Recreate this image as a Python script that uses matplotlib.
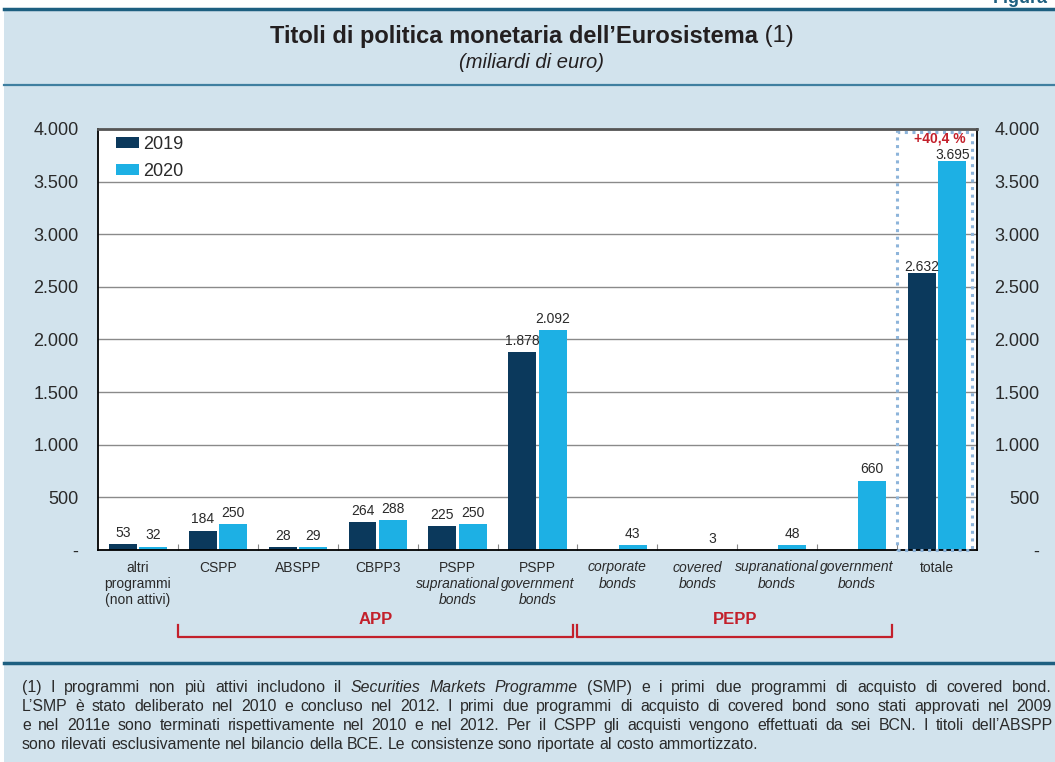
import matplotlib
matplotlib.use('Agg')
import numpy as np
import matplotlib.pyplot as plt
from matplotlib.patches import Rectangle
from matplotlib.lines import Line2D

plt.rcParams['font.family'] = ['Liberation Sans', 'DejaVu Sans']

# data
categories = [
    [('altri', 'normal'), ('programmi', 'normal'), ('(non attivi)', 'normal')],
    [('CSPP', 'normal')],
    [('ABSPP', 'normal')],
    [('CBPP3', 'normal')],
    [('PSPP', 'normal'), ('supranational', 'italic'), ('bonds', 'italic')],
    [('PSPP', 'normal'), ('government', 'italic'), ('bonds', 'italic')],
    [('corporate', 'italic'), ('bonds', 'italic')],
    [('covered', 'italic'), ('bonds', 'italic')],
    [('supranational', 'italic'), ('bonds', 'italic')],
    [('government', 'italic'), ('bonds', 'italic')],
    [('totale', 'normal')],
]
v2019 = [53, 184, 28, 264, 225, 1878, None, None, None, None, 2632]
v2020 = [32, 250, 29, 288, 250, 2092, 43, 3, 48, 660, 3695]
yticks = [0, 500, 1000, 1500, 2000, 2500, 3000, 3500, 4000]
groups = [('APP', 1.0, 5.94), ('PEPP', 6.0, 9.94)]
growth_label = '+40,4 %'

# colors
BG = '#d2e3ed'
TEAL = '#1d5f80'
DARK = '#0b395c'
LIGHT = '#1db0e4'
RED = '#c3202b'
TXT = '#2a2a2a'

W, H = 1055, 762


def fmt(v):
    if v == 0:
        return '-'
    return f"{v:,.0f}".replace(',', '.')


fig = plt.figure(figsize=(W / 100, H / 100), dpi=100)
fig.patch.set_facecolor('white')
fig.add_artist(Rectangle((4 / W, 0), 1, 1 - 9 / H, transform=fig.transFigure,
                         facecolor=BG, edgecolor='none', zorder=-10))
fig.add_artist(Line2D([4 / W, 1], [1 - 8.5 / H] * 2, color=TEAL, lw=2.5))
fig.add_artist(Line2D([4 / W, 1], [1 - 85 / H] * 2, color='#3f7fa0', lw=1.6))
fig.add_artist(Line2D([4 / W, 1], [1 - 663 / H] * 2, color=TEAL, lw=2.5))

fig.text(1048 / W, 1 - 3 / H, 'Figura', ha='right', va='baseline', fontsize=13,
         fontweight='bold', color=TEAL)

# title: bold part + normal "(1)", centred together
fig.canvas.draw()
r = fig.canvas.get_renderer()
t1 = fig.text(0, 1 - 36 / H, "Titoli di politica monetaria dell\u2019Eurosistema",
              ha='left', va='center', fontsize=17, fontweight='bold', color='#231f20')
t2 = fig.text(0, 1 - 36 / H, ' (1)', ha='left', va='center', fontsize=17, color='#231f20')
w1 = t1.get_window_extent(r).width
w2 = t2.get_window_extent(r).width
x0 = (W - w1 - w2) / 2 + 4
t1.set_x(x0 / W)
t2.set_x((x0 + w1) / W)
fig.text(0.5 + 4 / W, 1 - 62 / H, '(miliardi di euro)', ha='center', va='center',
         fontsize=14.5, style='italic', color='#231f20')

# axes
ax = fig.add_axes([98 / W, 1 - 550 / H, 879 / W, 421 / H])
ax.set_facecolor('white')
ax.set_xlim(0, 11)
ax.set_ylim(0, 4000)
ax.set_axisbelow(True)
ax.set_yticks(yticks)
ax.set_yticklabels([fmt(v) for v in yticks], fontsize=13, color=TXT)
ax.yaxis.grid(True, color='#8a8a8a', lw=1)
ax.tick_params(axis='y', length=0, pad=14)
ax.set_xticks(np.arange(1, 11))
ax.set_xticklabels([])
ax.tick_params(axis='x', direction='in', length=4, color='#888888')

for s in ['left', 'bottom', 'right']:
    ax.spines[s].set_color('black')
    ax.spines[s].set_linewidth(1.3)
ax.spines['top'].set_color('#555555')
ax.spines['top'].set_linewidth(2)

x = np.arange(len(v2020)) + 0.5
off, bw = 0.19, 0.35
x19 = [xi - off for xi, v in zip(x, v2019) if v is not None]
h19 = [v for v in v2019 if v is not None]
ax.bar(x19, h19, width=bw, color=DARK, label='2019', zorder=2)
ax.bar(x + off, v2020, width=bw, color=LIGHT, label='2020', zorder=2)

last = len(v2020) - 1
for xi, v in zip(x19, h19):
    dy = -0.5 if xi > last else 3
    ax.annotate(fmt(v), (xi, v), xytext=(0, dy), textcoords='offset points',
                ha='center', va='bottom', fontsize=10, color=TXT)
for xi, v in zip(x + off, v2020):
    dy = -0.5 if xi > last else 3
    ax.annotate(fmt(v), (xi, v), xytext=(0, dy), textcoords='offset points',
                ha='center', va='bottom', fontsize=10, color=TXT)

ax2 = ax.twinx()
ax2.set_ylim(0, 4000)
ax2.set_yticks(yticks)
ax2.set_yticklabels([fmt(v) for v in yticks], fontsize=13, color=TXT, ha='right')
ax2.tick_params(axis='y', length=0, pad=45)
for s in ax2.spines.values():
    s.set_visible(False)

# category labels
for xi, lines in zip(x, categories):
    for k, (txt, st) in enumerate(lines):
        ax.annotate(txt, (xi, 0), xycoords=('data', 'axes fraction'),
                    xytext=(0, -12.6 - 11.6 * k), textcoords='offset points',
                    ha='center', va='center', fontsize=10, style=st, color=TXT,
                    annotation_clip=False)

# dotted box around totale
ax.add_patch(Rectangle((10.0, 0), 0.94, 3970, fill=False, ls=(0, (1, 1.5)),
                       ec='#8db4da', lw=2.2, clip_on=False, zorder=3))
ax.text(x[-1] + 0.04, 3905, growth_label, ha='center', va='center', fontsize=10,
        fontweight='bold', color=RED, zorder=4)

# group brackets
for name, a, b in groups:
    ax.plot([a, a, b, b], [-0.178, -0.2067, -0.2067, -0.178], color=RED, lw=1.6,
            transform=ax.get_xaxis_transform(), clip_on=False)
    ax.text((a + b) / 2, -0.164, name, ha='center', va='center', fontsize=12,
            fontweight='bold', color=RED, transform=ax.get_xaxis_transform())

leg = ax.legend(loc='upper left', frameon=False, fontsize=13, handlelength=1.3,
                handleheight=0.55, handletextpad=0.2, labelspacing=0.55,
                borderaxespad=0.0, bbox_to_anchor=(0.012, 1.0))
for t in leg.get_texts():
    t.set_color(TXT)

# footnote, justified
foot = [
    [('(1) I programmi non più attivi includono il', 'normal'),
     ('Securities Markets Programme', 'italic'),
     ('(SMP) e i primi due programmi di acquisto di covered bond.', 'normal')],
    [("L\u2019SMP è stato deliberato nel 2010 e concluso nel 2012. I primi due programmi di acquisto di covered bond sono stati approvati nel 2009", 'normal')],
    [("e nel 2011e sono terminati rispettivamente nel 2010 e nel 2012. Per il CSPP gli acquisti vengono effettuati da sei BCN. I titoli dell\u2019ABSPP", 'normal')],
    [('sono rilevati esclusivamente nel bilancio della BCE. Le consistenze sono riportate al costo ammortizzato.', 'normal')],
]
fx0, fx1 = 22, 1052
fy = [692, 711, 730, 749]  # baselines
FS = 11.4
fig.canvas.draw()
sp = fig.text(0, 0, 'a a', fontsize=FS)
sp2 = fig.text(0, 0, 'aa', fontsize=FS)
space = sp.get_window_extent(r).width - sp2.get_window_extent(r).width
sp.remove()
sp2.remove()
for li, (segs, yy) in enumerate(zip(foot, fy)):
    words = []
    for txt, st in segs:
        for w in txt.split(' '):
            words.append((w, st))
    arts = []
    widths = []
    for w, st in words:
        t = fig.text(0, 1 - yy / H, w, fontsize=FS, style=st, color=TXT,
                     ha='left', va='baseline')
        arts.append(t)
        widths.append(t.get_window_extent(r).width)
    if li < len(foot) - 1:
        gap = (fx1 - fx0 - sum(widths)) / (len(words) - 1)
        gap = max(gap, space * 0.6)
    else:
        gap = space
    xx = fx0
    for t, wd in zip(arts, widths):
        t.set_x(xx / W)
        xx += wd + gap

fig.savefig('out.png', dpi=100, facecolor=fig.get_facecolor())
